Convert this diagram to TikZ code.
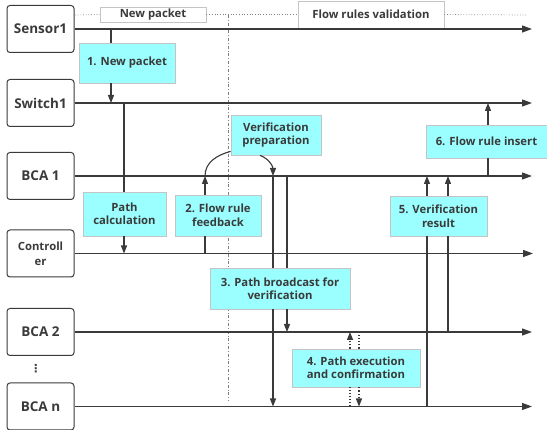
\documentclass[tikz,border=0pt]{standalone}
\usepackage{fontspec}
\setmainfont{Open Sans}
\newfontfamily\symfont{DejaVu Sans}
\usetikzlibrary{arrows.meta}
\definecolor{linegray}{HTML}{3A3A3A}
\definecolor{boxcyan}{HTML}{9BFFFF}
\definecolor{boxedge}{HTML}{C4C4C4}
\tikzset{every node/.style={font=\bfseries\fontsize{11.3}{13.5}\selectfont, text=linegray, align=center, inner sep=0pt},
  actor/.style={draw=linegray, line width=1pt, rounded corners=3pt, minimum width=67, minimum height=47,
    font=\bfseries\fontsize{13.5}{15}\selectfont},
  stagebox/.style={fill=boxcyan, draw=boxedge, line width=0.8pt},
  phase/.style={fill=white, draw=boxedge, line width=0.8pt},
  tline/.style={draw=linegray, line width=1.2pt, -{Triangle[length=10pt,width=7pt]}},
  link/.style={draw=linegray, line width=1.1pt},
  tip/.style={-{Triangle[length=8pt,width=6pt]}}}

\begin{document}
\begin{tikzpicture}[x=1pt,y=-1pt]
  \useasboundingbox (0,0) rectangle (547,430);
  % phases
  \node[phase, minimum width=106, minimum height=15] (ph1) at (153,14.5) {New packet};
  \node[phase, minimum width=146, minimum height=27] (ph2) at (371,14.5) {Flow rules validation};
  \coordinate (phstart) at (75,15);
  \coordinate (phend) at (528,15);
  \begin{scope}[gray, line width=0.7pt]
    \draw[dotted] (phstart) -- (ph1.west);
    \draw[dotted] (ph1.east) -- (ph2.west);
    \draw[dotted] (ph2.east) -- (phend);
    \draw[dash dot] (228,15) -- (228,401);
  \end{scope}
  % actors and their time lines
  \foreach \n/\y/\t in {sen/29/Sensor1, sw/103/Switch1, bca1/176/BCA 1, bca2/332/BCA 2, bcan/406.5/BCA n}{
    \node[actor] (\n) at (40.5,\y) {\t};
    \draw[tline] (\n.east) -- (532,\y);
  }
  \node[actor, font=\bfseries\fontsize{11.3}{15}\selectfont] (ctl) at (40.5,253.5) {Controll\\er};
  \draw[tline] (ctl.east) -- (533,253.5);
  \node[font=\symfont\bfseries\fontsize{11}{12}\selectfont] (dots) at (36,369) {⋮};
  % stages
  \node[stagebox, minimum width=96, minimum height=40] (s1) at (127,63) {1. New packet};
  \node[stagebox, minimum width=83, minimum height=44] (calc) at (124.5,214) {Path\\calculation};
  \node[stagebox, minimum width=86, minimum height=41] (s2) at (218,215.5) {2. Flow rule\\feedback};
  \node[stagebox, minimum width=90, minimum height=40] (prep) at (276,135) {Verification\\preparation};
  \node[stagebox, minimum width=140, minimum height=41] (s3) at (280,288.5) {3. Path broadcast for\\verification};
  \node[stagebox, minimum width=128, minimum height=38] (s4) at (356,368) {4. Path execution\\and confirmation};
  \node[stagebox, minimum width=97, minimum height=40] (s5) at (438.5,216) {5. Verification\\result};
  \node[stagebox, minimum width=121, minimum height=33] (s6) at (486.5,141.5) {6. Flow rule insert};
  % messages
  \begin{scope}[link]
    \draw (111,0 |- sen.east) -- (111,0 |- s1.north);
    \draw[tip] (111,0 |- s1.south) -- (111,0 |- sw.east);
    \draw (124,0 |- sw.east) -- (124,0 |- calc.north);
    \draw[tip] (124,0 |- calc.south) -- (124,0 |- ctl.east);
    \draw (205,0 |- ctl.east) -- (205,0 |- s2.south);
    \draw[tip] (205,0 |- s2.north) -- (205,0 |- bca1.east);
    \draw (205,0 |- bca1.east) to[out=90, in=195] ([yshift=4pt]prep.south west);
    \draw[tip] ([xshift=-16pt]prep.south) to[out=-20, in=90] (273,0 |- bca1.east);
    \draw (273,0 |- bca1.east) -- (273,0 |- s3.north);
    \draw[tip] (273,0 |- s3.south) -- (273,0 |- bcan.east);
    \draw (287,0 |- bca1.east) -- (287,0 |- s3.north);
    \draw[tip] (287,0 |- s3.south) -- (287,0 |- bca2.east);
    \draw[dotted] (350,0 |- bcan.east) -- (350,0 |- s4.south);
    \draw[dotted, tip] (350,0 |- s4.north) -- (350,0 |- bca2.east);
    \draw[dotted] (359,0 |- bca2.east) -- (359,0 |- s4.north);
    \draw[dotted, tip] (359,0 |- s4.south) -- (359,0 |- bcan.east);
    \draw (427,0 |- bcan.east) -- (427,0 |- s5.south);
    \draw[tip] (427,0 |- s5.north) -- (427,0 |- bca1.east);
    \draw (448,0 |- bca2.east) -- (448,0 |- s5.south);
    \draw[tip] (448,0 |- s5.north) -- (448,0 |- bca1.east);
    \draw (488,0 |- bca1.east) -- (488,0 |- s6.south);
    \draw[tip] (488,0 |- s6.north) -- (488,0 |- sw.east);
  \end{scope}
\end{tikzpicture}
\end{document}
